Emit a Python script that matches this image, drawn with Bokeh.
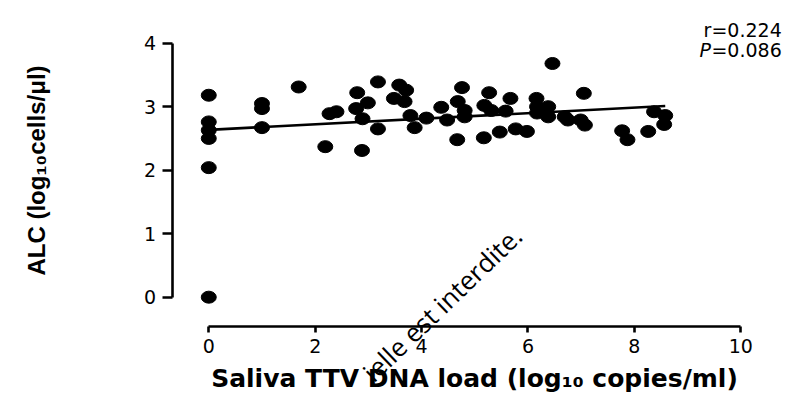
from bokeh.plotting import figure
from bokeh.models import Range1d, Label, ColumnDataSource, FixedTicker
from bokeh.embed import file_html
from bokeh.resources import INLINE

# ---- data ----
saliva_ttv = [0, 0, 0, 0, 0, 0,
              1.0, 1.0, 1.0,
              1.69, 2.19, 2.27, 2.40, 2.79, 2.77, 2.89, 2.99, 2.88,
              3.18, 3.18, 3.48, 3.58, 3.71, 3.68, 3.79, 3.87,
              4.09, 4.37, 4.48, 4.76, 4.68, 4.81, 4.81, 4.67,
              5.27, 5.18, 5.31, 5.58, 5.67, 5.17, 5.47, 5.77, 5.98,
              6.16, 6.17, 6.17, 6.38, 6.38, 6.46, 6.69, 6.75, 6.99,
              7.07, 7.05, 7.77, 7.87, 8.26, 8.37, 8.58, 8.56]
alc = [3.18, 2.76, 2.63, 2.50, 2.04, 0.0,
       3.05, 2.97, 2.67,
       3.31, 2.37, 2.89, 2.92, 3.22, 2.97, 2.81, 3.06, 2.31,
       3.39, 2.65, 3.13, 3.34, 3.26, 3.08, 2.86, 2.67,
       2.82, 2.99, 2.79, 3.30, 3.08, 2.94, 2.84, 2.48,
       3.22, 3.02, 2.94, 2.93, 3.13, 2.51, 2.60, 2.65, 2.61,
       3.13, 3.00, 2.90, 3.00, 2.84, 3.68, 2.84, 2.79, 2.79,
       2.71, 3.21, 2.62, 2.48, 2.61, 2.92, 2.86, 2.72]
x_ticks = [0, 2, 4, 6, 8, 10]
y_ticks = [0, 1, 2, 3, 4]
fit_intercept = 2.635
fit_slope = 0.0438
r_label = "r=0.224"
p_letter = "P"
p_label = "=0.086"
x_title = "Saliva TTV DNA load (log\u2081\u2080 copies/ml)"
y_title = "ALC (log\u2081\u2080cells/\u03bcl)"
watermark = "ielle est interdite."

FONT = "DejaVu Sans"

# frame covers the whole canvas; axes are pinned at offset positions
p = figure(width=788, height=404, output_backend="svg", toolbar_location=None,
           x_range=Range1d(-3.915, 10.897), y_range=Range1d(-1.690, 4.672),
           min_border_left=0, min_border_right=0, min_border_top=0,
           min_border_bottom=0)
p.outline_line_color = None
p.grid.visible = False
p.background_fill_color = "white"
p.border_fill_color = "white"

# regression line across the data range
x_fit = [min(saliva_ttv), max(saliva_ttv)]
y_fit = [fit_intercept + fit_slope * v for v in x_fit]
p.line(x_fit, y_fit, line_color="black", line_width=2.6)

src = ColumnDataSource(dict(x=saliva_ttv, y=alc))
p.ellipse(x="x", y="y", width=15, height=12, width_units="screen",
          height_units="screen", source=src, fill_color="black",
          line_color="black")

for ax, ticks in ((p.xaxis, x_ticks), (p.yaxis, y_ticks)):
    ax.ticker = FixedTicker(ticks=ticks)
    ax.minor_tick_line_color = None
    ax.axis_line_width = 2.6
    ax.axis_line_color = "black"
    ax.major_tick_line_width = 2.6
    ax.major_tick_line_color = "black"
    ax.major_tick_in = 0
    ax.major_label_text_font = FONT
    ax.major_label_text_font_size = "19px"
    ax.major_label_text_color = "black"
    ax.axis_label_text_color = "black"
    ax.axis_label_text_font_style = "bold"
    ax.axis_label_text_font = FONT

p.xaxis.bounds = (0, 10)
p.yaxis.bounds = (0, 4)
p.xaxis.fixed_location = -0.461
p.yaxis.fixed_location = -0.688
p.xaxis.major_tick_out = 6
p.yaxis.major_tick_out = 10
p.xaxis.major_label_standoff = 7
p.yaxis.major_label_standoff = 6
p.xaxis.axis_label = x_title
p.yaxis.axis_label = y_title
p.xaxis.axis_label_text_font_size = "25px"
p.yaxis.axis_label_text_font = "Liberation Sans"
p.yaxis.axis_label_text_font_size = "24px"
p.xaxis.axis_label_standoff = 7
p.yaxis.axis_label_standoff = 91

# statistics annotation
p.add_layout(Label(x=10.77, y=4.2, text=r_label, text_align="right",
                   text_baseline="alphabetic", text_font=FONT,
                   text_font_size="19px", text_color="black"))
p.add_layout(Label(x=10.77, y=3.885, text=p_label, text_align="right",
                   text_baseline="alphabetic", text_font=FONT,
                   text_font_size="19px", text_color="black"))
p.add_layout(Label(x=9.44, y=3.885, text=p_letter, text_align="right",
                   text_baseline="alphabetic", text_font=FONT,
                   text_font_style="italic",
                   text_font_size="19px", text_color="black"))

# diagonal watermark text
p.add_layout(Label(x=5.8, y=1.04, text=watermark, text_align="right",
                   text_baseline="alphabetic", text_font="Open Sans",
                   text_font_size="26px", text_color="black",
                   angle=44, angle_units="deg"))

open("out.html", "w").write(file_html(p, INLINE))
